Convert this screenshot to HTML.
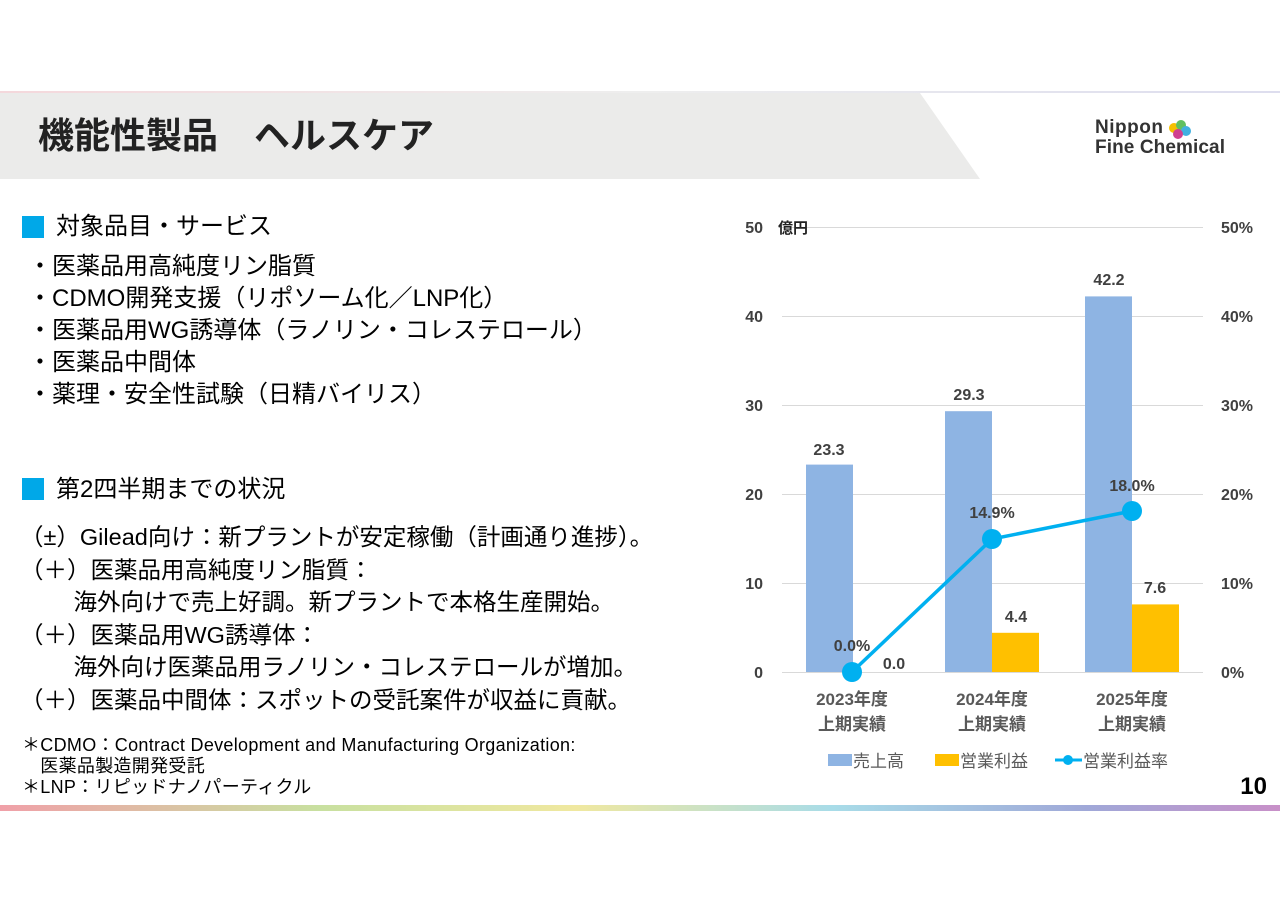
<!DOCTYPE html>
<html><head><meta charset="utf-8"><style>
body{margin:0;width:1280px;height:905px;background:#fff;position:relative;overflow:hidden;font-family:"Liberation Sans","Noto Sans CJK JP",sans-serif;color:#000}
.a{position:absolute;white-space:nowrap}
.t{font-size:24px;line-height:32px}
</style></head><body>
<svg class="a" style="left:0;top:0" width="1280" height="905">
<defs><linearGradient id="g" x1="0" x2="1"><stop offset="0" stop-color="#f0a0a8"/><stop offset="0.25" stop-color="#c8e0a0"/><stop offset="0.45" stop-color="#f0e8a0"/><stop offset="0.65" stop-color="#a8dce8"/><stop offset="0.85" stop-color="#a0a8d8"/><stop offset="1" stop-color="#c890c8"/></linearGradient>
<linearGradient id="g2" x1="0" x2="1"><stop offset="0" stop-color="#f4d8dc"/><stop offset="0.5" stop-color="#eeeeee"/><stop offset="1" stop-color="#dde"/></linearGradient></defs>
<rect x="0" y="91" width="1280" height="2" fill="url(#g2)"/>
<polygon points="0,93 920,93 980,179 0,179" fill="#ebebea"/>
<rect x="0" y="805" width="1280" height="6" fill="url(#g)"/>
<rect x="22" y="216" width="22" height="22" fill="#00a8e8"/>
<rect x="22" y="478" width="22" height="22" fill="#00a8e8"/>
<g stroke="#d9d9d9" stroke-width="1">
<line x1="782" x2="1203" y1="227.5" y2="227.5"/><line x1="782" x2="1203" y1="316.5" y2="316.5"/><line x1="782" x2="1203" y1="405.5" y2="405.5"/><line x1="782" x2="1203" y1="494.5" y2="494.5"/><line x1="782" x2="1203" y1="583.5" y2="583.5"/><line x1="782" x2="1203" y1="672.5" y2="672.5"/></g>
<g fill="#8eb4e3"><rect x="806" y="464.6" width="47" height="207.4"/><rect x="945" y="411.2" width="47" height="260.8"/><rect x="1085" y="296.4" width="47" height="375.6"/></g>
<g fill="#ffc000"><rect x="992" y="632.8" width="47" height="39.2"/><rect x="1132" y="604.4" width="47" height="67.6"/></g>
<polyline points="852,672 992,539 1132,511" fill="none" stroke="#00b0f0" stroke-width="3.5"/>
<g fill="#00b0f0"><circle cx="852" cy="672" r="10"/><circle cx="992" cy="539" r="10"/><circle cx="1132" cy="511" r="10"/></g>
<g font-size="16" font-weight="bold" fill="#404040" text-anchor="end" font-family="Liberation Sans, sans-serif">
<text x="763" y="233">50</text><text x="763" y="322">40</text><text x="763" y="411">30</text><text x="763" y="500">20</text><text x="763" y="589">10</text><text x="763" y="678">0</text></g>
<g font-size="16" font-weight="bold" fill="#404040" font-family="Liberation Sans, sans-serif">
<text x="1221" y="233">50%</text><text x="1221" y="322">40%</text><text x="1221" y="411">30%</text><text x="1221" y="500">20%</text><text x="1221" y="589">10%</text><text x="1221" y="678">0%</text></g>
<g font-size="16" font-weight="bold" fill="#404040" text-anchor="middle" font-family="Liberation Sans, sans-serif">
<text x="829" y="455">23.3</text><text x="969" y="400">29.3</text><text x="1109" y="285">42.2</text>
<text x="894" y="669">0.0</text><text x="1016" y="622">4.4</text><text x="1155" y="593">7.6</text>
<text x="852" y="651">0.0%</text><text x="992" y="518">14.9%</text><text x="1132" y="491">18.0%</text></g>
<text x="778" y="233" font-size="15" font-weight="bold" fill="#222">億円</text>
<g font-size="17" font-weight="bold" fill="#595959" text-anchor="middle">
<text x="852" y="705">2023年度</text><text x="852" y="730">上期実績</text>
<text x="992" y="705">2024年度</text><text x="992" y="730">上期実績</text>
<text x="1132" y="705">2025年度</text><text x="1132" y="730">上期実績</text></g>
<rect x="828" y="754" width="24" height="12" fill="#8eb4e3"/>
<text x="853" y="767" font-size="17" fill="#595959">売上高</text>
<rect x="935" y="754" width="24" height="12" fill="#ffc000"/>
<text x="960" y="767" font-size="17" fill="#595959">営業利益</text>
<line x1="1055" x2="1082" y1="760" y2="760" stroke="#00b0f0" stroke-width="3"/><circle cx="1068" cy="760" r="5" fill="#00b0f0"/>
<text x="1083" y="767" font-size="17" fill="#595959">営業利益率</text>
<text x="1267" y="794" font-size="24" font-weight="bold" text-anchor="end" font-family="Liberation Sans, sans-serif">10</text>
<g transform="translate(1178,128)"><circle cx="-4" cy="0" r="5" fill="#f5c000"/><circle cx="3" cy="-3" r="5" fill="#60c060"/><circle cx="8" cy="3" r="5" fill="#40b0e0"/><circle cx="0" cy="6" r="5" fill="#d04090"/></g>
<text x="1095" y="133" font-size="19" fill="#333" font-weight="bold" font-family="Liberation Sans, sans-serif" textLength="68">Nippon</text>
<text x="1095" y="153" font-size="19" fill="#333" font-weight="bold" font-family="Liberation Sans, sans-serif" textLength="130">Fine Chemical</text>
</svg>
<div class="a" style="left:38px;top:114px;font-size:36px;font-weight:bold;color:#222;line-height:44px">機能性製品　ヘルスケア</div>
<div class="a t" style="left:56px;top:211px">対象品目・サービス</div>
<div class="a t" style="left:28px;top:251px">・医薬品用高純度リン脂質<br>・CDMO開発支援（リポソーム化／LNP化）<br>・医薬品用WG誘導体（ラノリン・コレステロール）<br>・医薬品中間体<br>・薬理・安全性試験（日精バイリス）</div>
<div class="a t" style="left:56px;top:474px">第2四半期までの状況</div>
<div class="a" style="left:20px;top:521px;font-size:23.5px;line-height:32.5px">（±）Gilead向け：新プラントが安定稼働（計画通り進捗）。<br>（＋）医薬品用高純度リン脂質：<br>　　 海外向けで売上好調。新プラントで本格生産開始。<br>（＋）医薬品用WG誘導体：<br>　　 海外向け医薬品用ラノリン・コレステロールが増加。<br>（＋）医薬品中間体：スポットの受託案件が収益に貢献。</div>
<div class="a" style="left:22px;top:735px;font-size:18px;line-height:21px;letter-spacing:0.3px">＊CDMO：Contract Development and Manufacturing Organization:<br>　医薬品製造開発受託<br>＊LNP：リピッドナノパーティクル</div>
</body></html>
